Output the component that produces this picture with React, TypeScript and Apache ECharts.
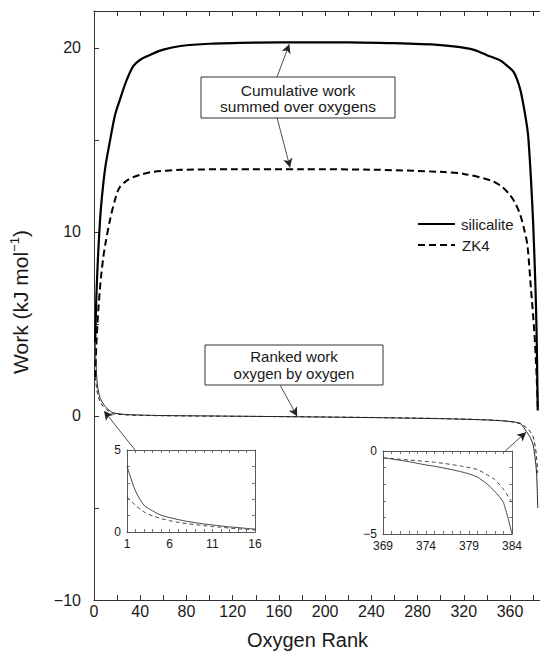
import React, { useEffect, useRef } from "react";
import * as echarts from "echarts";

const FONT = '"Liberation Sans", Arial, Helvetica, sans-serif';

// Ranked work (kJ/mol), highest-ranked oxygens 1..16
const headRanks = [1, 2, 3, 4, 5, 6, 7, 8, 9, 10, 11, 12, 13, 14, 15, 16];
const headSilicalite = [4.02, 2.5, 1.63, 1.29, 1.02, 0.88, 0.76, 0.65, 0.57, 0.49, 0.43, 0.37, 0.31, 0.27, 0.22, 0.18];
const headZK4 = [2.14, 1.63, 1.22, 0.98, 0.82, 0.69, 0.59, 0.51, 0.45, 0.39, 0.33, 0.29, 0.24, 0.2, 0.16, 0.12];

// Ranked work, the long flat middle stretch
const midRanks = [20, 25, 30, 40, 60, 100, 150, 200, 250, 300, 340, 360];
const midSilicalite = [0.13, 0.09, 0.07, 0.05, 0.02, 0.0, -0.03, -0.06, -0.1, -0.15, -0.22, -0.3];
const midZK4 = [0.09, 0.07, 0.05, 0.03, 0.01, -0.01, -0.03, -0.06, -0.09, -0.14, -0.21, -0.3];

// Ranked work, lowest-ranked oxygens 369..384
const tailRanks = [369, 370, 371, 372, 373, 374, 375, 376, 377, 378, 379, 380, 381, 382, 383, 384];
const tailSilicalite = [-0.4, -0.48, -0.56, -0.64, -0.74, -0.84, -0.92, -1.02, -1.12, -1.24, -1.38, -1.58, -1.94, -2.44, -3.1, -5.0];
const tailZK4 = [-0.42, -0.45, -0.5, -0.54, -0.58, -0.63, -0.68, -0.74, -0.82, -0.9, -1.0, -1.12, -1.4, -1.72, -2.3, -3.1];

// Cumulative work summed over oxygens
const cumRanksSilicalite = [1, 2, 3, 4, 5, 6, 8, 10, 14, 18, 22, 28, 34, 40, 48, 60, 75, 100, 140, 180, 220, 260, 300, 315, 328, 340, 352, 358, 363, 366, 369, 371, 373, 375, 376, 378, 380, 382, 383, 384];
const cumSilicalite = [4.0, 6.4, 8.0, 9.3, 10.4, 11.3, 12.6, 13.6, 15.0, 16.3, 17.1, 18.2, 19.0, 19.35, 19.6, 19.9, 20.1, 20.22, 20.28, 20.3, 20.3, 20.25, 20.15, 20.05, 19.9, 19.6, 19.3, 19.0, 18.7, 18.3, 17.7, 17.1, 16.4, 15.6, 15.0, 13.0, 10.5, 7.0, 4.5, 0.3];
const cumRanksZK4 = [1, 2, 3, 4, 5, 6, 8, 10, 14, 18, 22, 30, 40, 50, 75, 120, 180, 240, 300, 320, 343, 352, 360, 365, 369, 372, 375, 378, 381, 383, 384];
const cumZK4 = [2.1, 3.8, 5.0, 6.0, 6.8, 7.5, 8.6, 9.4, 10.7, 11.7, 12.4, 12.85, 13.1, 13.25, 13.37, 13.4, 13.4, 13.38, 13.26, 13.15, 12.8, 12.5, 12.0, 11.5, 10.9, 10.2, 9.3, 7.0, 4.6, 2.2, 0.5];

const legendNames = ["silicalite", "ZK4"];

const zip = (xs: number[], ys: number[]) => xs.map((x, i) => [x, ys[i]]);

const minus = (v: number) => (v < 0 ? "\u2212" + Math.abs(v) : String(v));

const INK = "#1a1a1a";
const AXIS = "#333";

function valueAxis(extra: any) {
  return {
    type: "value",
    splitLine: { show: false },
    axisLine: { show: true, onZero: false, lineStyle: { color: AXIS, width: 1 } },
    axisTick: { show: true, inside: true, length: 5, lineStyle: { color: AXIS, width: 1 } },
    ...extra,
  };
}

function insetAxis(extra: any, labelEvery: (v: number) => boolean, show: boolean) {
  return valueAxis({
    interval: 1,
    axisTick: { show: true, inside: true, length: 3, lineStyle: { color: "#555", width: 0.8 } },
    axisLine: { show: true, onZero: false, lineStyle: { color: "#444", width: 0.9 } },
    axisLabel: {
      show,
      fontSize: 12,
      fontFamily: FONT,
      color: INK,
      margin: 6,
      formatter: (v: number) => (labelEvery(v) ? minus(v) : ""),
    },
    ...extra,
  });
}

const centered = {
  align: "center",
  verticalAlign: "middle",
  textAlign: "center",
  textVerticalAlign: "middle",
};

export default function App() {
  const ref = useRef<HTMLDivElement>(null);

  useEffect(() => {
    if (!ref.current) return;
    const chart = echarts.init(ref.current, undefined, { renderer: "svg" });

    const rankedSilicalite = [
      ...zip(headRanks, headSilicalite),
      ...zip(midRanks, midSilicalite),
      ...zip(tailRanks, tailSilicalite),
    ];
    const rankedZK4 = [
      ...zip(headRanks, headZK4),
      ...zip(midRanks, midZK4),
      ...zip(tailRanks, tailZK4),
    ];

    const arrow = (a: number[], b: number[]) => [{ coord: a }, { coord: b }];

    const option: any = {
      animation: false,
      backgroundColor: "#fff",
      grid: [
        { left: 94, top: 11, width: 453, height: 589, outerBoundsMode: "none", containLabel: false },
        { left: 127, top: 450, width: 128, height: 82, outerBoundsMode: "none", containLabel: false },
        { left: 383, top: 451, width: 129, height: 83, outerBoundsMode: "none", containLabel: false },
      ],
      xAxis: [
        valueAxis({
          gridIndex: 0,
          position: "bottom",
          min: 0,
          max: 392,
          interval: 20,
          axisLabel: {
            fontSize: 16,
            fontFamily: FONT,
            color: INK,
            margin: 3,
            formatter: (v: number) => (v % 40 === 0 ? String(v) : ""),
          },
        }),
        valueAxis({ gridIndex: 0, position: "top", min: 0, max: 392, interval: 20, axisLabel: { show: false } }),
        insetAxis({ gridIndex: 1, position: "bottom", min: 1, max: 16 }, (v) => (v - 1) % 5 === 0, true),
        insetAxis({ gridIndex: 1, position: "top", min: 1, max: 16 }, () => false, false),
        insetAxis({ gridIndex: 2, position: "bottom", min: 369, max: 384 }, (v) => (v - 369) % 5 === 0, true),
        insetAxis({ gridIndex: 2, position: "top", min: 369, max: 384 }, () => false, false),
      ],
      yAxis: [
        valueAxis({
          gridIndex: 0,
          position: "left",
          min: -10,
          max: 22,
          interval: 5,
          axisLabel: {
            fontSize: 16,
            fontFamily: FONT,
            color: INK,
            margin: 13,
            formatter: (v: number) => (v % 10 === 0 ? minus(v) : ""),
          },
        }),
        insetAxis({ gridIndex: 1, position: "left", min: 0, max: 5 }, (v) => v === 0 || v === 5, true),
        insetAxis({ gridIndex: 1, position: "right", min: 0, max: 5 }, () => false, false),
        insetAxis({ gridIndex: 2, position: "left", min: -5, max: 0 }, (v) => v === 0 || v === -5, true),
        insetAxis({ gridIndex: 2, position: "right", min: -5, max: 0 }, () => false, false),
      ],
      series: [
        {
          name: legendNames[0],
          type: "line",
          xAxisIndex: 0,
          yAxisIndex: 0,
          data: zip(cumRanksSilicalite, cumSilicalite),
          symbol: "none",
          smooth: 0.3,
          lineStyle: { color: "#000", width: 2.2 },
          z: 3,
        },
        {
          name: legendNames[1],
          type: "line",
          xAxisIndex: 0,
          yAxisIndex: 0,
          data: zip(cumRanksZK4, cumZK4),
          symbol: "none",
          smooth: 0.3,
          lineStyle: { color: "#000", width: 2, type: [7, 4] },
          z: 3,
        },
        {
          name: "ranked silicalite",
          type: "line",
          xAxisIndex: 0,
          yAxisIndex: 0,
          data: rankedSilicalite,
          symbol: "none",
          smooth: 0.3,
          lineStyle: { color: "#222", width: 1 },
          markLine: {
            silent: true,
            symbol: ["none", "arrow"],
            symbolSize: [7, 9],
            label: { show: false },
            emphasis: { disabled: true },
            lineStyle: { color: "#222", width: 0.8, type: "solid" },
            data: [
              arrow([158.4, 18.42], [169, 20.2]),
              arrow([158.4, 16.2], [169.7, 13.5]),
              arrow([161, 1.68], [175.8, -0.02]),
              arrow([35.5, -1.85], [8.7, 0.27]),
              arrow([355.8, -1.9], [374, -0.88]),
            ],
          },
        },
        {
          name: "ranked ZK4",
          type: "line",
          xAxisIndex: 0,
          yAxisIndex: 0,
          data: rankedZK4,
          symbol: "none",
          smooth: 0.3,
          lineStyle: { color: "#222", width: 1, type: [4, 3] },
        },
        {
          name: "head silicalite",
          type: "line",
          xAxisIndex: 2,
          yAxisIndex: 1,
          data: zip(headRanks, headSilicalite),
          symbol: "none",
          smooth: 0.3,
          lineStyle: { color: "#333", width: 0.9 },
        },
        {
          name: "head ZK4",
          type: "line",
          xAxisIndex: 2,
          yAxisIndex: 1,
          data: zip(headRanks, headZK4),
          symbol: "none",
          smooth: 0.3,
          lineStyle: { color: "#333", width: 0.9, type: [4, 3] },
        },
        {
          name: "tail silicalite",
          type: "line",
          xAxisIndex: 4,
          yAxisIndex: 3,
          data: zip(tailRanks, tailSilicalite),
          symbol: "none",
          smooth: 0.2,
          lineStyle: { color: "#333", width: 0.9 },
        },
        {
          name: "tail ZK4",
          type: "line",
          xAxisIndex: 4,
          yAxisIndex: 3,
          data: zip(tailRanks, tailZK4),
          symbol: "none",
          smooth: 0.2,
          lineStyle: { color: "#333", width: 0.9, type: [4, 3] },
        },
      ],
      graphic: [
        // annotation boxes
        {
          type: "rect",
          z: 10,
          shape: { x: 201, y: 77, width: 194, height: 41 },
          style: { fill: "#fff", stroke: "#333", lineWidth: 1 },
        },
        {
          type: "text",
          z: 11,
          x: 298,
          y: 98,
          style: {
            text: "Cumulative work\nsummed over oxygens",
            fontSize: 15.5,
            fontFamily: FONT,
            lineHeight: 16,
            fill: INK,
            ...centered,
          },
        },
        {
          type: "rect",
          z: 10,
          shape: { x: 205, y: 345, width: 178, height: 40 },
          style: { fill: "#fff", stroke: "#333", lineWidth: 1 },
        },
        {
          type: "text",
          z: 11,
          x: 294,
          y: 365,
          style: {
            text: "Ranked work\noxygen by oxygen",
            fontSize: 15,
            fontFamily: FONT,
            lineHeight: 17,
            fill: INK,
            ...centered,
          },
        },
        // legend
        {
          type: "line",
          shape: { x1: 418, y1: 224, x2: 455, y2: 224 },
          style: { stroke: "#000", lineWidth: 2.2 },
        },
        {
          type: "text",
          x: 461,
          y: 224,
          style: {
            text: legendNames[0],
            fontSize: 15,
            fontFamily: FONT,
            fill: INK,
            align: "left",
            verticalAlign: "middle",
            textAlign: "left",
            textVerticalAlign: "middle",
          },
        },
        {
          type: "line",
          shape: { x1: 418, y1: 245, x2: 455, y2: 245 },
          style: { stroke: "#000", lineWidth: 2, lineDash: [7, 4] },
        },
        {
          type: "text",
          x: 462,
          y: 245,
          style: {
            text: legendNames[1],
            fontSize: 15,
            fontFamily: FONT,
            fill: INK,
            align: "left",
            verticalAlign: "middle",
            textAlign: "left",
            textVerticalAlign: "middle",
          },
        },
        // axis titles
        {
          type: "text",
          x: 307.5,
          y: 640,
          style: {
            text: "Oxygen Rank",
            fontSize: 20,
            fontFamily: FONT,
            fill: INK,
            ...centered,
          },
        },
        {
          type: "text",
          x: 20,
          y: 302,
          rotation: Math.PI / 2,
          style: {
            text: "{a|Work (kJ mol}{b|\u22121}{a|)}",
            fill: INK,
            ...centered,
            rich: {
              a: { fontSize: 21, fontFamily: FONT, fill: INK, lineHeight: 24 },
              b: { fontSize: 13, fontFamily: FONT, fill: INK, verticalAlign: "top", lineHeight: 24, padding: [0, 0, 9, 0] },
            },
          },
        },
      ],
    };

    chart.setOption(option);
    return () => chart.dispose();
  }, []);

  return (
    <div
      ref={ref}
      style={{ position: "fixed", left: 0, top: 0, width: 540, height: 654, background: "#fff" }}
    />
  );
}
